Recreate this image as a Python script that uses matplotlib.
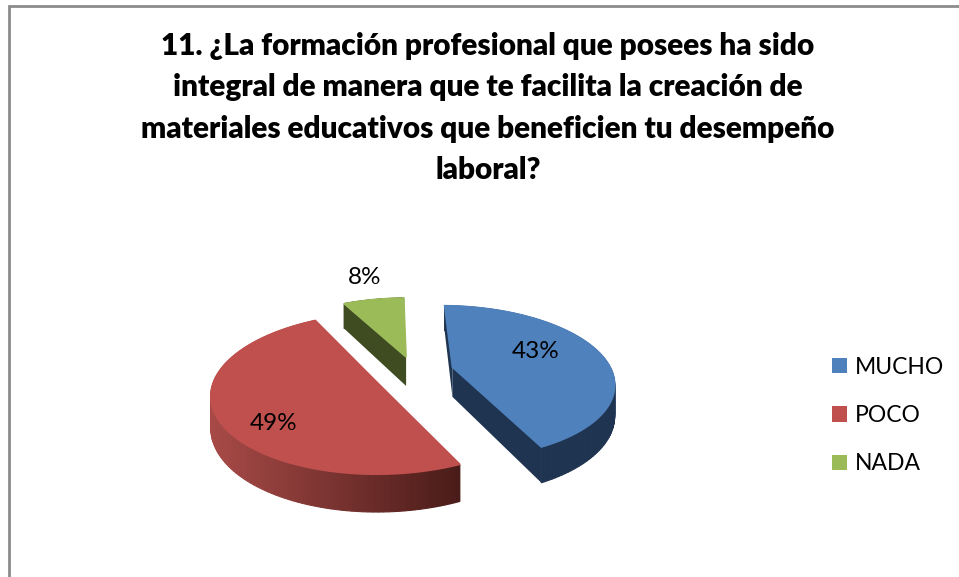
import matplotlib
matplotlib.use("Agg")
import matplotlib.pyplot as plt
import numpy as np
from matplotlib.patches import Patch, Polygon

plt.rcParams.update({
    "font.family": ["Lato", "DejaVu Sans"],
})

TITLE = ("11. ¿La formación profesional que posees ha sido\n"
         "integral de manera que te facilita la creación de\n"
         "materiales educativos que beneficien tu desempeño\n"
         "laboral?")
LABELS = ["MUCHO", "POCO", "NADA"]
VALUES = [43, 49, 8]
COLORS = ["#4f81bd", "#c0504d", "#9bbb59"]
SIDE_LEFT = ["#1f3450", "#a84a47", "#3f4b21"]
SIDE_RIGHT = ["#1f3450", "#4a1c19", "#3f4b21"]

# projection of the tilted pie, in pixels
CX, CY = 414, 371
RX, RY = 165.7, 75
PERSP = 0.19
DEPTH = 30
EXPLODE = 0.2
TRIM = 1.5  # degrees taken off each cut edge
APEX_SHIFT = [0.04, 0.06, 0.0]  # keeps the red cut edge straight


def project(x, y, drop=0.0):
    w = 1 + PERSP * y
    return np.column_stack([CX + RX * x / w, CY - RY * y / w + DEPTH * drop / w])


def mix(c1, c2, t):
    a = np.array(matplotlib.colors.to_rgb(c1))
    b = np.array(matplotlib.colors.to_rgb(c2))
    return tuple(a + (b - a) * t)


fig = plt.figure(figsize=(9.59, 5.77), dpi=100)
ax = fig.add_axes([0, 0, 1, 1])
ax.set_xlim(0, 959)
ax.set_ylim(577, 0)
ax.axis("off")

# outer frame, open towards the bottom and the right
ax.plot([9, 9, 959], [577, 6, 6], color="#8c8c8c", lw=2.0, solid_joinstyle="miter")

ax.text(488, 108, TITLE, ha="center", va="center", fontsize=21.4, fontweight="heavy",
        linespacing=1.575, color="black")

total = sum(VALUES)
edges = np.cumsum([0] + VALUES) / total * 360
for i, value in enumerate(VALUES):
    a0, a1 = edges[i], edges[i + 1]
    mid = np.radians((a0 + a1) / 2)
    ox, oy = EXPLODE * np.sin(mid), EXPLODE * np.cos(mid)
    t = np.radians(np.linspace(a0 + TRIM, a1 - TRIM, 120))
    arc_x, arc_y = ox + np.sin(t), oy + np.cos(t)

    top_arc = project(arc_x, arc_y)
    low_arc = project(arc_x, arc_y, 1)
    px = np.array([ox + APEX_SHIFT[i] * np.sin(mid)])
    py = np.array([oy + APEX_SHIFT[i] * np.cos(mid)])
    apex = project(px, py)
    apex_low = project(px, py, 1)

    # cut faces
    for end in (0, -1):
        ax.add_patch(Polygon(np.vstack([apex, top_arc[end], low_arc[end], apex_low]),
                             fc=SIDE_RIGHT[i], ec="none", zorder=2))
    # rim, shaded strip by strip
    x_min, x_max = top_arc[:, 0].min(), top_arc[:, 0].max()
    for j in range(len(t) - 1):
        shade = (top_arc[j, 0] - x_min) / (x_max - x_min)
        col = mix(SIDE_LEFT[i], SIDE_RIGHT[i], shade)
        ax.add_patch(Polygon(np.vstack([top_arc[j], top_arc[j + 1], low_arc[j + 1], low_arc[j]]),
                             fc=col, ec=col, lw=0.8, zorder=3))
    # top face, its edge hides the rim strips at the back
    ax.add_patch(Polygon(np.vstack([apex, top_arc]), fc=COLORS[i], ec=COLORS[i], lw=1.2, zorder=4))

# data labels
for value, (x, y) in zip(VALUES, [(536, 351), (274, 423), (365, 277)]):
    ax.text(x, y, f"{value}%", ha="center", va="center", fontsize=17.5, color="black", zorder=5)

handles = [Patch(fc=c, ec="none") for c in COLORS]
ax.legend(handles, LABELS, loc="center left", bbox_to_anchor=(832 / 959, 1 - 415.5 / 577),
          frameon=False, fontsize=16.5, handlelength=0.65, handleheight=0.65, handletextpad=0.35,
          labelspacing=1.2, borderpad=0, borderaxespad=0, labelcolor="black")

fig.savefig("out.png", dpi=100)
